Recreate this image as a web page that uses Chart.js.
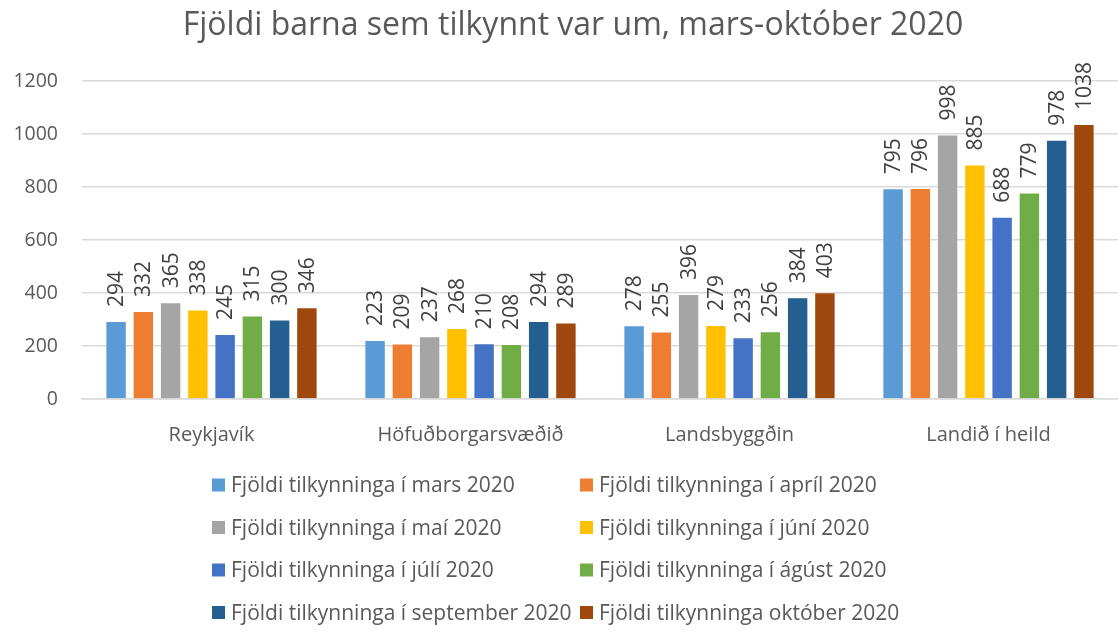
<!DOCTYPE html>
<html><head><meta charset="utf-8">
<script src="https://cdn.jsdelivr.net/npm/chart.js@4.4.0/dist/chart.umd.min.js"></script>
<style>html,body{margin:0;padding:0;background:#fff;overflow:hidden}#wrap{width:1118px;height:632px}</style>
</head><body><div id="wrap"><canvas id="c" width="1118" height="632"></canvas></div>
<script>
const titleText = "Fjöldi barna sem tilkynnt var um, mars-október 2020";
const categories = ["Reykjavík", "Höfuðborgarsvæðið", "Landsbyggðin", "Landið í heild"];
const seriesNames = [
  "Fjöldi tilkynninga í mars 2020",
  "Fjöldi tilkynninga í apríl 2020",
  "Fjöldi tilkynninga í maí 2020",
  "Fjöldi tilkynninga í júní 2020",
  "Fjöldi tilkynninga í júlí 2020",
  "Fjöldi tilkynninga í ágúst 2020",
  "Fjöldi tilkynninga í september 2020",
  "Fjöldi tilkynninga október 2020"
];
const mars = [294, 223, 278, 795];
const april = [332, 209, 255, 796];
const mai = [365, 237, 396, 998];
const juni = [338, 268, 279, 885];
const juli = [245, 210, 233, 688];
const agust = [315, 208, 256, 779];
const september = [300, 294, 384, 978];
const oktober = [346, 289, 403, 1038];
const yTicks = [0, 200, 400, 600, 800, 1000, 1200];

const seriesValues = [mars, april, mai, juni, juli, agust, september, oktober];
const colors = ["#5B9BD5", "#ED7D31", "#A5A5A5", "#FFC000", "#4472C4", "#70AD47", "#255E91", "#9E480E"];
const FONT = "'Open Sans', 'Noto Sans', sans-serif";
const TXT = "#595959";

const datasets = seriesNames.map((n, i) => ({
  label: n, data: seriesValues[i], backgroundColor: colors[i],
  borderColor: "rgba(255,255,255,0.35)", borderWidth: 1,
  categoryPercentage: 0.842, barPercentage: 0.786
}));

const decor = {
  id: "decor",
  afterDatasetsDraw(chart) {
    const ctx = chart.ctx;
    ctx.save();
    // data labels
    ctx.fillStyle = "#404040";
    ctx.font = "21px " + FONT;
    ctx.textAlign = "left";
    ctx.textBaseline = "middle";
    chart.data.datasets.forEach((ds, di) => {
      const meta = chart.getDatasetMeta(di);
      meta.data.forEach((bar, j) => {
        ctx.save();
        ctx.translate(bar.x, bar.y - 14);
        ctx.rotate(-Math.PI / 2);
        ctx.fillText(String(ds.data[j]), 0, 1);
        ctx.restore();
      });
    });
    // title
    ctx.fillStyle = TXT;
    ctx.font = "32px " + FONT;
    ctx.textAlign = "center";
    ctx.textBaseline = "alphabetic";
    ctx.fillText(titleText, 573, 35);
    // legend
    ctx.font = "21px " + FONT;
    ctx.textAlign = "left";
    const rows = [485, 527.5, 570, 612.5];
    const cols = [212, 580];
    chart.data.datasets.forEach((ds, i) => {
      const x = cols[i % 2], y = rows[Math.floor(i / 2)];
      ctx.fillStyle = ds.backgroundColor;
      ctx.fillRect(x, y - 6.5, 13, 13);
      ctx.fillStyle = TXT;
      ctx.fillText(ds.label, x + 19, y + 7);
    });
    ctx.restore();
  }
};

new Chart(document.getElementById("c"), {
  type: "bar",
  data: { labels: categories, datasets },
  plugins: [decor],
  options: {
    responsive: false, animation: false,
    layout: { padding: { top: 81, right: -4, bottom: 183, left: 0 } },
    plugins: { legend: { display: false }, title: { display: false }, tooltip: { enabled: false } },
    scales: {
      x: {
        grid: { display: false },
        border: { display: true, color: "#d9d9d9", width: 1.5 },
        ticks: { color: TXT, font: { family: FONT, size: 20 }, padding: 16 },
        afterFit(s) { s.height = 50; }
      },
      y: {
        min: 0, max: 1200,
        afterBuildTicks(s) { s.ticks = yTicks.map(v => ({ value: v })); },
        grid: { color: "#d9d9d9", drawTicks: false, lineWidth: 1.5 },
        border: { display: false },
        ticks: { color: TXT, font: { family: FONT, size: 19.5 }, padding: 24, callback: v => String(v) },
        afterFit(s) { s.width = 82; }
      }
    }
  }
});
</script></body></html>
